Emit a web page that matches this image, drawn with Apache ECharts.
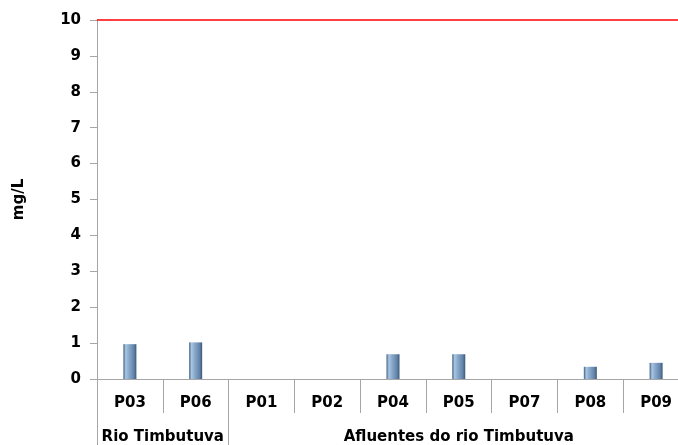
<!DOCTYPE html>
<html>
<head>
<meta charset="utf-8">
<script src="https://cdn.jsdelivr.net/npm/echarts@6/dist/echarts.min.js"></script>
<style>html,body{margin:0;padding:0;background:#fff}#c{width:678px;height:445px}</style>
</head>
<body>
<div id="c"></div>
<script>
const categories = ['P03','P06','P01','P02','P04','P05','P07','P08','P09'];
const values = [0.97, 1.02, 0, 0, 0.69, 0.69, 0, 0.34, 0.45];
const groupNames = ['Rio Timbutuva', 'Afluentes do rio Timbutuva'];
const groupSizes = [2, 7];
const limitValue = 10;
const yTicks = [0,1,2,3,4,5,6,7,8,9,10];

const groupCenters = [];
const groupStarts = [];
let acc = 0;
groupSizes.forEach(s => { groupStarts.push(acc); groupCenters.push(acc + s / 2); acc += s; });

const font = 'DejaVu Sans';
const chart = echarts.init(document.getElementById('c'), null, {renderer:'canvas'});
chart.setOption({
  animation: false,
  grid: {left: 97, right: -11, top: 20, bottom: 66, outerBoundsMode: 'none', containLabel: false},
  xAxis: [
    {
      type: 'category', data: categories, position: 'bottom',
      axisLine: {lineStyle: {color: '#a6a6a6', width: 1}},
      axisTick: {show: true, interval: 0, length: 34, lineStyle: {color: '#a6a6a6'}},
      axisLabel: {color: '#000', fontFamily: font, fontWeight: 'bold', fontSize: 15, margin: 17, interval: 0}
    },
    {
      type: 'category', data: categories, position: 'bottom', offset: 34,
      axisLine: {show: false},
      axisTick: {show: true, length: 32, lineStyle: {color: '#a6a6a6'},
        interval: (i) => groupStarts.indexOf(i) >= 0},
      axisLabel: {show: false}
    },
    {
      type: 'value', position: 'bottom', offset: 34, min: 0, max: categories.length, interval: 0.5,
      axisLine: {show: false}, axisTick: {show: false}, splitLine: {show: false},
      axisLabel: {color: '#000', fontFamily: font, fontWeight: 'bold', fontSize: 15, margin: 17,
        showMinLabel: true, showMaxLabel: true,
        formatter: (v) => { const k = groupCenters.indexOf(v); return k >= 0 ? groupNames[k] : ''; }}
    }
  ],
  yAxis: {
    type: 'value', min: yTicks[0], max: yTicks[yTicks.length-1], interval: 1,
    name: 'mg/L', nameLocation: 'middle', nameGap: 70,
    nameTextStyle: {color: '#000', fontFamily: font, fontWeight: 'bold', fontSize: 15},
    axisLine: {show: true, lineStyle: {color: '#a6a6a6'}},
    axisTick: {show: true, length: 7, lineStyle: {color: '#a6a6a6'}},
    splitLine: {show: false},
    axisLabel: {color: '#000', fontFamily: font, fontWeight: 'bold', fontSize: 15, margin: 16}
  },
  series: [{
    type: 'bar', data: values, barWidth: 13, xAxisIndex: 0,
    itemStyle: {
      color: new echarts.graphic.LinearGradient(0, 0, 1, 0, [
        {offset: 0, color: '#3f5d80'},
        {offset: 0.18, color: '#a9c6e2'},
        {offset: 0.45, color: '#86a6c9'},
        {offset: 0.8, color: '#6384a9'},
        {offset: 1, color: '#3b587a'}
      ])
    },
    markLine: {
      silent: true, symbol: 'none', label: {show: false},
      lineStyle: {color: '#ff0000', width: 1.5, type: 'solid'},
      data: [{yAxis: limitValue}]
    }
  }]
});
</script>
</body>
</html>
